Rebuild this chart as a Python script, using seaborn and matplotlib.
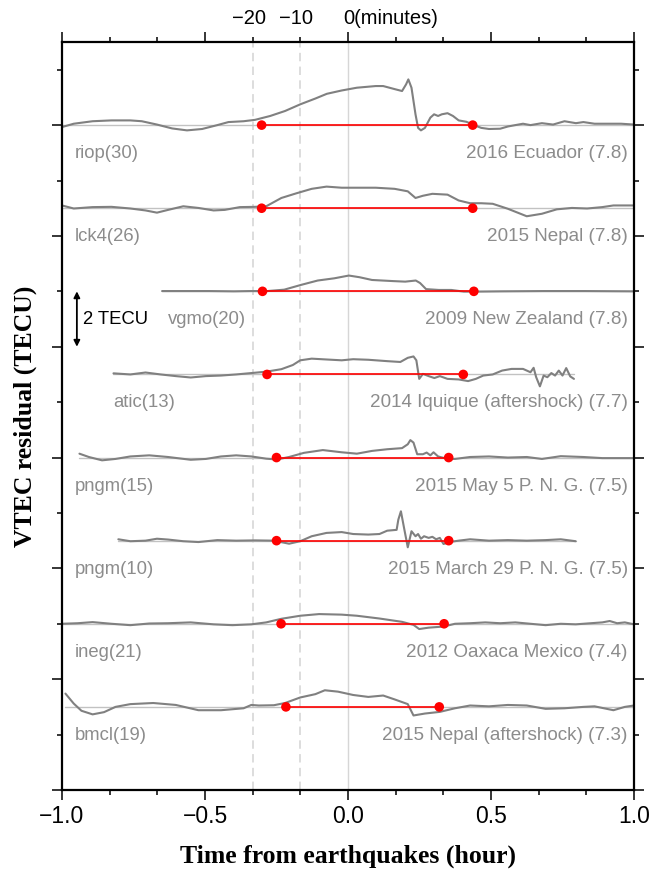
import matplotlib
matplotlib.use("Agg")
import matplotlib.pyplot as plt
import numpy as np
import pandas as pd
import seaborn as sns
from matplotlib.ticker import MultipleLocator, FuncFormatter

# ---------------- data (time in hours from the earthquake, residual in TECU) ----------------
riop_t = [-1.0, -0.959, -0.893, -0.827, -0.761, -0.721, -0.668, -0.615, -0.563, -0.510,
          -0.457, -0.418, -0.365, -0.325, -0.272, -0.220, -0.167, -0.114, -0.074, -0.022,
          0.031, 0.097, 0.123, 0.163, 0.189, 0.203, 0.211, 0.222, 0.236, 0.245,
          0.255, 0.269, 0.288, 0.301, 0.315, 0.328, 0.348, 0.367, 0.387, 0.414,
          0.440, 0.466, 0.493, 0.532, 0.559, 0.585, 0.612, 0.638, 0.678, 0.717,
          0.757, 0.797, 0.823, 0.862, 0.915, 0.955, 1.0]
riop_v = [-0.07, 0.05, 0.14, 0.17, 0.17, 0.14, 0.02, -0.12, -0.19, -0.14,
          0.0, 0.11, 0.14, 0.19, 0.33, 0.51, 0.75, 0.96, 1.13, 1.25,
          1.35, 1.41, 1.41, 1.30, 1.23, 1.47, 1.65, 1.35, 0.39, -0.10,
          -0.19, -0.10, 0.27, 0.39, 0.33, 0.39, 0.43, 0.33, 0.17, 0.12,
          0.0, -0.10, -0.14, -0.13, -0.05, 0.0, 0.05, 0.0, 0.07, 0.02,
          0.14, 0.07, 0.11, 0.05, 0.05, 0.05, 0.02]

lck4_t = [-1.0, -0.959, -0.893, -0.827, -0.761, -0.708, -0.668, -0.629, -0.576, -0.523,
          -0.470, -0.431, -0.378, -0.325, -0.286, -0.233, -0.180, -0.127, -0.075, -0.022,
          0.031, 0.097, 0.163, 0.209, 0.236, 0.262, 0.295, 0.348, 0.387, 0.427,
          0.466, 0.506, 0.559, 0.625, 0.678, 0.730, 0.783, 0.836, 0.889, 0.928, 1.0]
lck4_v = [0.10, -0.01, 0.04, 0.05, -0.01, -0.08, -0.16, -0.06, 0.07, 0.01,
          -0.08, -0.06, 0.04, 0.05, 0.07, 0.37, 0.54, 0.70, 0.78, 0.74,
          0.74, 0.74, 0.70, 0.61, 0.37, 0.45, 0.52, 0.49, 0.28, 0.18,
          0.18, 0.16, -0.02, -0.29, -0.20, -0.04, 0.01, -0.01, 0.04, 0.10, 0.10]

vgmo_t = [-0.650, -0.559, -0.486, -0.399, -0.340, -0.282, -0.223, -0.165, -0.106, -0.048,
          0.003, 0.040, 0.084, 0.157, 0.200, 0.237, 0.252, 0.273, 0.317, 0.361,
          0.405, 0.449, 0.537, 0.683, 0.829, 1.0]
vgmo_v = [0.01, 0.01, 0.01, 0.0, 0.01, 0.01, 0.06, 0.23, 0.39, 0.47,
          0.57, 0.51, 0.41, 0.37, 0.35, 0.39, 0.30, 0.08, 0.05, 0.05,
          -0.01, -0.01, 0.0, 0.01, 0.01, 0.0]

atic_t = [-0.820, -0.761, -0.708, -0.655, -0.602, -0.550, -0.497, -0.444, -0.391, -0.338,
          -0.286, -0.233, -0.193, -0.167, -0.127, -0.075, -0.022, 0.018, 0.071, 0.137,
          0.183, 0.209, 0.229, 0.239, 0.249, 0.262, 0.282, 0.302, 0.321, 0.348,
          0.387, 0.420, 0.447, 0.473, 0.506, 0.539, 0.572, 0.612, 0.638, 0.649,
          0.658, 0.671, 0.684, 0.697, 0.711, 0.724, 0.737, 0.750, 0.763, 0.777, 0.790]
atic_v = [0.04, 0.0, 0.07, 0.0, -0.06, -0.11, -0.06, -0.04, 0.0, 0.05,
          0.10, 0.19, 0.34, 0.51, 0.57, 0.54, 0.51, 0.55, 0.53, 0.48,
          0.45, 0.60, 0.65, 0.51, -0.16, 0.02, -0.06, -0.13, -0.06, -0.16,
          -0.18, -0.24, -0.16, -0.04, 0.0, 0.14, 0.20, 0.20, 0.08, 0.24,
          -0.10, -0.43, -0.04, -0.10, 0.05, -0.04, 0.14, -0.04, 0.23, -0.07, -0.16]

pngm15_t = [-0.939, -0.906, -0.860, -0.813, -0.761, -0.695, -0.629, -0.550, -0.497, -0.444,
            -0.391, -0.338, -0.286, -0.249, -0.206, -0.154, -0.088, -0.022, 0.031, 0.084,
            0.137, 0.189, 0.209, 0.218, 0.229, 0.242, 0.262, 0.275, 0.288, 0.299,
            0.315, 0.348, 0.374, 0.427, 0.493, 0.559, 0.625, 0.678, 0.744, 0.823,
            0.889, 1.0]
pngm15_v = [0.14, 0.02, -0.10, -0.05, 0.04, 0.08, 0.02, -0.08, -0.05, 0.04,
            0.08, 0.04, -0.04, -0.07, 0.02, 0.17, 0.27, 0.19, 0.14, 0.24,
            0.30, 0.34, 0.48, 0.63, 0.54, 0.12, 0.12, 0.18, 0.08, 0.19,
            0.04, -0.05, -0.05, 0.02, 0.04, 0.0, 0.02, -0.05, 0.05, 0.02,
            -0.02, -0.02]

pngm10_t = [-0.803, -0.761, -0.708, -0.668, -0.629, -0.576, -0.523, -0.457, -0.391, -0.325,
            -0.259, -0.206, -0.167, -0.127, -0.075, -0.022, 0.018, 0.071, 0.110, 0.137,
            0.170, 0.176, 0.185, 0.196, 0.209, 0.222, 0.236, 0.245, 0.255, 0.266,
            0.282, 0.295, 0.308, 0.321, 0.334, 0.354, 0.387, 0.427, 0.493, 0.559,
            0.625, 0.691, 0.744, 0.796]
pngm10_v = [0.05, -0.02, 0.0, 0.07, 0.04, -0.02, -0.05, 0.02, 0.0, 0.01,
            0.0, -0.11, -0.02, 0.16, 0.28, 0.31, 0.24, 0.22, 0.24, 0.36,
            0.39, 0.76, 1.06, 0.46, -0.24, 0.34, 0.16, 0.24, 0.07, 0.16,
            0.10, 0.14, 0.05, 0.10, -0.12, -0.05, 0.0, 0.05, 0.0, 0.02,
            0.0, 0.02, 0.05, -0.02]

ineg_t = [-1.0, -0.945, -0.893, -0.827, -0.761, -0.695, -0.629, -0.550, -0.470, -0.404,
          -0.338, -0.286, -0.233, -0.167, -0.101, -0.022, 0.031, 0.110, 0.189, 0.229,
          0.249, 0.282, 0.334, 0.374, 0.427, 0.480, 0.532, 0.585, 0.638, 0.691,
          0.744, 0.796, 0.849, 0.889, 0.915, 0.941, 0.968, 1.0]
ineg_v = [0.0, 0.02, 0.06, 0.0, -0.05, 0.01, 0.02, 0.05, -0.02, -0.05,
          -0.02, 0.05, 0.18, 0.29, 0.35, 0.33, 0.29, 0.19, 0.07, -0.04,
          -0.19, -0.14, -0.10, 0.0, 0.02, 0.05, 0.02, 0.05, 0.0, -0.05,
          0.0, -0.02, 0.02, 0.05, 0.10, 0.02, 0.05, -0.02]

bmcl_t = [-0.988, -0.959, -0.932, -0.893, -0.853, -0.813, -0.761, -0.681, -0.602, -0.523,
          -0.444, -0.365, -0.338, -0.312, -0.259, -0.220, -0.167, -0.114, -0.081, -0.035,
          0.018, 0.071, 0.123, 0.163, 0.209, 0.229, 0.269, 0.321, 0.374, 0.427,
          0.493, 0.559, 0.625, 0.691, 0.757, 0.823, 0.862, 0.928, 0.968, 1.0]
bmcl_v = [0.48, 0.12, -0.14, -0.27, -0.19, 0.0, 0.10, 0.14, 0.07, -0.12,
          -0.12, -0.05, 0.07, 0.05, 0.06, 0.14, 0.34, 0.46, 0.60, 0.55,
          0.43, 0.36, 0.41, 0.27, 0.10, -0.31, -0.24, -0.18, -0.05, 0.05,
          0.02, 0.07, 0.05, -0.07, -0.05, 0.0, 0.02, -0.12, 0.0, 0.05]

stations = ["riop(30)", "lck4(26)", "vgmo(20)", "atic(13)",
            "pngm(15)", "pngm(10)", "ineg(21)", "bmcl(19)"]
events = ["2016 Ecuador (7.8)", "2015 Nepal (7.8)", "2009 New Zealand (7.8)",
          "2014 Iquique (aftershock) (7.7)", "2015 May 5 P. N. G. (7.5)",
          "2015 March 29 P. N. G. (7.5)", "2012 Oaxaca Mexico (7.4)",
          "2015 Nepal (aftershock) (7.3)"]
baselines = [24, 21, 18, 15, 12, 9, 6, 3]
onset_start = [-0.302, -0.302, -0.299, -0.283, -0.250, -0.250, -0.234, -0.217]
onset_end = [0.436, 0.436, 0.440, 0.403, 0.352, 0.352, 0.336, 0.319]
minute_marks = [-20, -10, 0]
scale_bar_tecu = 2

curve_t = [riop_t, lck4_t, vgmo_t, atic_t, pngm15_t, pngm10_t, ineg_t, bmcl_t]
curve_v = [riop_v, lck4_v, vgmo_v, atic_v, pngm15_v, pngm10_v, ineg_v, bmcl_v]
for ts, vs in zip(curve_t, curve_v):
    assert len(ts) == len(vs), (len(ts), len(vs))

# ---------------- style ----------------
station_label_x = [-0.955, -0.955, -0.629, -0.822, -0.955, -0.955, -0.955, -0.955]
event_label_x = 0.978
label_drop = 1.03
text_gray = "#8c8c8c"
curve_gray = "#808080"

sns.set_theme(style="white")
plt.rcParams['font.family'] = ['Liberation Sans', 'DejaVu Sans']
plt.rcParams['axes.unicode_minus'] = True

fig = plt.figure(figsize=(6.52, 8.73), dpi=100)
fig.patch.set_facecolor("white")
ax = fig.add_axes([62 / 652, 1 - 790 / 873, 572 / 652, 748 / 873])
ax.set_facecolor("white")

# reference lines at -20, -10 and 0 minutes
for m in minute_marks:
    if m == 0:
        ax.axvline(m / 60, color="#d6d6d6", lw=1.0, zorder=0)
    else:
        ax.axvline(m / 60, color="#d3d3d3", lw=1.1, ls=(0, (5.5, 3.5)), zorder=0)

# zero baselines spanning each record
for base, ts in zip(baselines, curve_t):
    ax.plot([min(ts), max(ts)], [base, base], color="#c2c2c2", lw=1.0, zorder=1)

# curves
rows = []
for name, base, ts, vs in zip(stations, baselines, curve_t, curve_v):
    for t, v in zip(ts, vs):
        rows.append((name + str(base), t, base + v))
df = pd.DataFrame(rows, columns=["station", "time", "tecu"])
sns.lineplot(data=df, x="time", y="tecu", units="station", estimator=None, sort=False,
             color=curve_gray, lw=1.5, ax=ax, zorder=2, legend=False)

# onset/end windows
red_rows = []
for name, base, s, e in zip(stations, baselines, onset_start, onset_end):
    red_rows.append((name + str(base), s, base))
    red_rows.append((name + str(base), e, base))
rdf = pd.DataFrame(red_rows, columns=["station", "time", "tecu"])
sns.lineplot(data=rdf, x="time", y="tecu", units="station", estimator=None, sort=False,
             color="#ff0000", lw=1.2, ax=ax, zorder=3, legend=False)
sns.scatterplot(data=rdf, x="time", y="tecu", color="#ff0000", s=48, edgecolor="none",
                ax=ax, zorder=4, legend=False)

# labels for each record
for name, event, base, lx in zip(stations, events, baselines, station_label_x):
    ax.text(lx, base - label_drop, name, color=text_gray, fontsize=13.3,
            ha="left", va="center", zorder=5)
    ax.text(event_label_x, base - label_drop, event, color=text_gray, fontsize=13.6,
            ha="right", va="center", zorder=5)

# scale bar
ax.annotate("", xy=(-0.948, 16 + scale_bar_tecu), xytext=(-0.948, 16),
            arrowprops=dict(arrowstyle="<|-|>", color="black", lw=1.3,
                            mutation_scale=9, shrinkA=0, shrinkB=0), zorder=6)
ax.text(-0.925, 17, f"{scale_bar_tecu} TECU", color="black", fontsize=13.3,
        ha="left", va="center", zorder=6)

# minute labels above the frame
for m in minute_marks:
    if m < 0:
        ax.annotate(f"\u2212{abs(m)}", xy=(m / 60, 1), xycoords=("data", "axes fraction"),
                    xytext=(-3, 17), textcoords="offset points", ha="center", va="center",
                    fontsize=14.5, color="black", annotation_clip=False)
    else:
        ax.annotate(f"{m}(minutes)", xy=(m / 60, 1), xycoords=("data", "axes fraction"),
                    xytext=(-3.5, 17), textcoords="offset points", ha="left", va="center",
                    fontsize=14.5, color="black", annotation_clip=False)

# axes
ax.set_xlim(-1, 1)
ax.set_ylim(0, 27)
ax.xaxis.set_major_locator(MultipleLocator(0.5))
ax.xaxis.set_minor_locator(MultipleLocator(1 / 6))
ax.yaxis.set_major_locator(MultipleLocator(4))
ax.yaxis.set_minor_locator(MultipleLocator(2))
ax.xaxis.set_major_formatter(FuncFormatter(lambda v, p: f"{v:.1f}".replace("-", "\u2212")))
ax.tick_params(which="both", direction="out", bottom=True, top=True, left=True, right=True,
               labelbottom=True, labeltop=False, labelleft=False, labelright=False,
               color="black", width=1.1)
ax.tick_params(which="major", length=7.2)
ax.tick_params(which="minor", length=3.6)
ax.tick_params(axis="x", which="major", labelsize=16.5, pad=3.5, labelcolor="black")
for sp in ax.spines.values():
    sp.set_color("black")
    sp.set_linewidth(1.6)
    sp.set_visible(True)

ax.set_xlabel("Time from earthquakes (hour)", fontfamily="Liberation Serif",
              fontweight="bold", fontsize=18.5, color="black")
ax.set_ylabel("VTEC residual (TECU)", fontfamily="Liberation Serif",
              fontweight="bold", fontsize=18.5, color="black")
ax.xaxis.set_label_coords(0.5, -0.0735)
ax.yaxis.set_label_coords(-0.044, 0.5)

fig.savefig("out.png", dpi=100, facecolor="white")
